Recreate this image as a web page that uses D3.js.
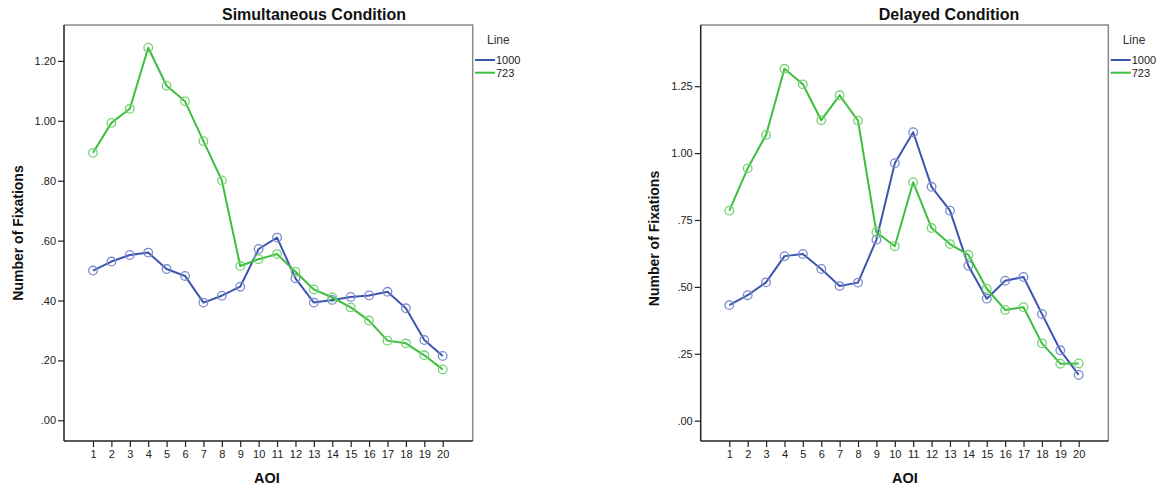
<!DOCTYPE html>
<html>
<head>
<meta charset="utf-8">
<script src="https://cdn.jsdelivr.net/npm/d3@7"></script>
<style>
  html, body { margin: 0; padding: 0; background: #fff; }
  svg { display: block; font-family: "Liberation Sans", Arial, sans-serif; }
</style>
</head>
<body>
<svg id="chart" width="1158" height="488"></svg>
<script>
// AOI categories along the x axis
const aoi = d3.range(1, 21);

// Mean number of fixations per AOI, Simultaneous Condition
const simLine1000 = [0.500, 0.530, 0.552, 0.560, 0.505, 0.482, 0.393, 0.416, 0.446, 0.572,
                     0.610, 0.474, 0.393, 0.402, 0.412, 0.417, 0.429, 0.374, 0.268, 0.215];
const simLine723  = [0.893, 0.993, 1.040, 1.244, 1.117, 1.065, 0.932, 0.801, 0.515, 0.538,
                     0.555, 0.496, 0.437, 0.410, 0.377, 0.333, 0.266, 0.257, 0.217, 0.170];

// Mean number of fixations per AOI, Delayed Condition
const delLine1000 = [0.432, 0.469, 0.517, 0.615, 0.623, 0.567, 0.503, 0.516, 0.676, 0.962,
                     1.078, 0.874, 0.785, 0.579, 0.456, 0.523, 0.537, 0.399, 0.263, 0.171];
const delLine723  = [0.785, 0.943, 1.068, 1.315, 1.257, 1.123, 1.216, 1.121, 0.704, 0.652,
                     0.891, 0.720, 0.660, 0.620, 0.493, 0.414, 0.424, 0.289, 0.213, 0.214];

// Tick values and labels
const simTicks = [0, 0.2, 0.4, 0.6, 0.8, 1.0, 1.2];
const delTicks = [0, 0.25, 0.5, 0.75, 1.0, 1.25];
const legendTitle = "Line";
const seriesNames = ["1000", "723"];

const lineColors = ["#3d56ad", "#3dbf3d"];
const markerColors = ["#7b8bd0", "#74d374"];

const svg = d3.select("#chart");

// SPSS-style tick formatting: ".80", "1.20", ".25"
function spssFormat(decimals) {
  return v => {
    const s = v.toFixed(decimals);
    return s.startsWith("0.") ? s.slice(1) : s;
  };
}

function drawPanel(cfg) {
  const { left, right, top, bottom, y0, yPerUnit, x1, x20, title, titleX,
          ylabX, ylabY, xlabX, series, ticks, decimals, legendX } = cfg;

  const g = svg.append("g");

  // x scale maps AOI index to pixel; y scale maps value to pixel
  const x = d3.scaleLinear().domain([1, 20]).range([x1, x20]);
  const yMin = (y0 - bottom) / yPerUnit;
  const yMax = (y0 - top) / yPerUnit;
  const y = d3.scaleLinear().domain([yMin, yMax]).range([bottom, top]);

  // frame: top and right in grey
  g.append("path")
    .attr("d", `M${left},${top}H${right}V${bottom}`)
    .attr("fill", "none").attr("stroke", "#8a8a8a").attr("stroke-width", 1.5);

  // y axis
  const yAxis = d3.axisLeft(y).tickValues(ticks).tickFormat(spssFormat(decimals))
    .tickSize(6).tickPadding(2);
  const ya = g.append("g").attr("transform", `translate(${left},0)`).call(yAxis);
  ya.select(".domain").attr("stroke", "#222").attr("stroke-width", 1.5)
    .attr("d", `M0,${top}V${bottom}`);
  ya.selectAll(".tick line").attr("stroke", "#222").attr("stroke-width", 1.2);
  ya.selectAll(".tick text").attr("fill", "#222").style("font-size", "11px")
    .style("font-family", "'Liberation Sans', Arial, sans-serif");

  // x axis
  const xAxis = d3.axisBottom(x).tickValues(aoi).tickFormat(d3.format("d"))
    .tickSize(6).tickPadding(3);
  const xa = g.append("g").attr("transform", `translate(0,${bottom})`).call(xAxis);
  xa.select(".domain").attr("stroke", "#222").attr("stroke-width", 1.5)
    .attr("d", `M${left},0H${right}`);
  xa.selectAll(".tick line").attr("stroke", "#222").attr("stroke-width", 1.2);
  xa.selectAll(".tick text").attr("fill", "#222").style("font-size", "11px")
    .style("font-family", "'Liberation Sans', Arial, sans-serif");

  // title
  g.append("text").attr("x", titleX).attr("y", 20).attr("text-anchor", "middle")
    .attr("font-weight", "bold").attr("font-size", 16).attr("fill", "#111")
    .text(title);

  // axis titles
  g.append("text").attr("transform", `translate(${ylabX},${ylabY}) rotate(-90)`)
    .attr("text-anchor", "middle").attr("font-weight", "bold").attr("font-size", 14)
    .attr("fill", "#111").text("Number of Fixations");
  g.append("text").attr("x", xlabX).attr("y", 483).attr("text-anchor", "middle")
    .attr("font-weight", "bold").attr("font-size", 14.5).attr("fill", "#111")
    .text("AOI");

  // series lines and hollow markers
  const line = d3.line().x((d, i) => x(aoi[i])).y(d => y(d));
  series.forEach((vals, k) => {
    g.append("path").datum(vals).attr("d", line)
      .attr("fill", "none").attr("stroke", lineColors[k]).attr("stroke-width", 2)
      .attr("stroke-linejoin", "round");
    g.selectAll(null).data(vals).enter().append("circle")
      .attr("cx", (d, i) => x(aoi[i])).attr("cy", d => y(d)).attr("r", 4.3)
      .attr("fill", "none").attr("stroke", markerColors[k]).attr("stroke-width", 1.3);
  });

  // legend
  const lg = g.append("g");
  lg.append("text").attr("x", legendX + 12).attr("y", 44).attr("font-size", 12)
    .attr("fill", "#333").text(legendTitle);
  seriesNames.forEach((name, k) => {
    const yy = 60 + k * 12.7;
    lg.append("line").attr("x1", legendX).attr("x2", legendX + 20)
      .attr("y1", yy).attr("y2", yy).attr("stroke", lineColors[k]).attr("stroke-width", 2);
    lg.append("text").attr("x", legendX + 21).attr("y", yy + 4).attr("font-size", 11)
      .attr("fill", "#222").text(name);
  });
}

drawPanel({
  left: 64, right: 472.7, top: 25, bottom: 441,
  y0: 420.3, yPerUnit: 299.5, x1: 93, x20: 442.7,
  title: "Simultaneous Condition", titleX: 314,
  ylabX: 23, ylabY: 233, xlabX: 267,
  series: [simLine1000, simLine723], ticks: simTicks, decimals: 2, legendX: 475
});

drawPanel({
  left: 700.7, right: 1108.3, top: 25, bottom: 441,
  y0: 420.7, yPerUnit: 267.6, x1: 729.3, x20: 1078.7,
  title: "Delayed Condition", titleX: 949,
  ylabX: 659, ylabY: 238.5, xlabX: 905,
  series: [delLine1000, delLine723], ticks: delTicks, decimals: 2, legendX: 1110.7
});
</script>
</body>
</html>
